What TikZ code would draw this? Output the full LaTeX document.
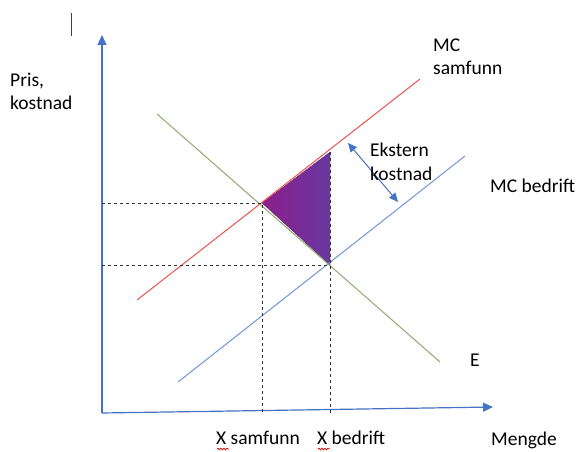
\documentclass[tikz,border=0pt]{standalone}
\usepackage{fontspec}
\setmainfont{Carlito}
\usetikzlibrary{arrows.meta, decorations.pathmorphing}
\definecolor{AxisBlue}{RGB}{68, 114, 196}
\definecolor{MCRed}{RGB}{240, 80, 80}
\definecolor{MCBlue}{RGB}{110, 150, 215}
\definecolor{EGreen}{RGB}{140, 170, 110}
\definecolor{WelfareL}{RGB}{140, 30, 140}
\definecolor{WelfareR}{RGB}{105, 55, 160}

\tikzset{
  axis/.style={AxisBlue, line width=1.2pt, -{Triangle[length=10pt,width=9pt]}},
  curve/.style={line width=1pt},
  guide/.style={black!80, dashed, line width=0.7pt},
  lbl/.style={font=\fontsize{19.5}{24}\selectfont, inner sep=0pt, align=left},
  squiggle/.style={red!85!black, line width=0.7pt, decorate,
    decoration={snake, segment length=3pt, amplitude=0.9pt}}
}

\begin{document}
\begin{tikzpicture}[x=1pt,y=-1pt]
  \path[use as bounding box] (0,0) rectangle (576,452);

  % axes
  \coordinate (O) at (102,413);
  \coordinate (ytop) at (102,35);
  \coordinate (xend) at (493,407);
  \draw[axis] (O) -- (ytop);
  \draw[axis] (O) -- (xend);
  \draw[black!75, line width=0.8pt] (71,13) -- (71,36);

  % curves
  \coordinate (mcs0) at (137,300);
  \coordinate (mcs1) at (420,79);
  \coordinate (mcb0) at (178,382);
  \coordinate (mcb1) at (465,156);
  \coordinate (e0) at (157,114);
  \coordinate (e1) at (440,362);
  \coordinate (As) at (262,203);
  \coordinate (Ab) at (330,265);
  \coordinate (Top) at (330,152);

  % welfare loss
  \fill[left color=WelfareL, right color=WelfareR] (As) -- (Top) -- (Ab) -- cycle;

  \draw[curve, EGreen] (e0) -- (e1);
  \draw[curve, MCRed] (mcs0) -- (mcs1);
  \draw[curve, MCBlue] (mcb0) -- (mcb1);

  % guides
  \draw[guide] (As -| O) -- (As) -- (As |- O);
  \draw[guide] (Ab -| O) -- (Ab);
  \draw[guide] (Top) -- (Top |- O);

  % external cost
  \coordinate (ek0) at (348,143);
  \coordinate (ek1) at (398,202);
  \draw[AxisBlue, line width=1pt, {Triangle[length=9pt,width=8pt]}-{Triangle[length=9pt,width=8pt]}] (ek0) -- (ek1);

  % labels
  \node[lbl, anchor=base west] (pris) at (10,110) {Pris,\\kostnad};
  \node[lbl, anchor=base west] (mcsam) at (433,75) {MC\\samfunn};
  \node[lbl, anchor=base west] (mcbed) at (490,192) {MC bedrift};
  \node[lbl, anchor=base west] (ekst) at (370,180) {Ekstern\\kostnad};
  \node[lbl, anchor=base west] (elab) at (470,366) {E};
  \node[lbl, anchor=base west] (xsam) at (216,444) {X samfunn};
  \node[lbl, anchor=base west] (xbed) at (317,444) {X bedrift};
  \node[lbl, anchor=base west] (meng) at (491,445) {Mengde};

  \draw[squiggle] (217,449) -- (229,449);
  \draw[squiggle] (318,449) -- (330,449);
\end{tikzpicture}
\end{document}
